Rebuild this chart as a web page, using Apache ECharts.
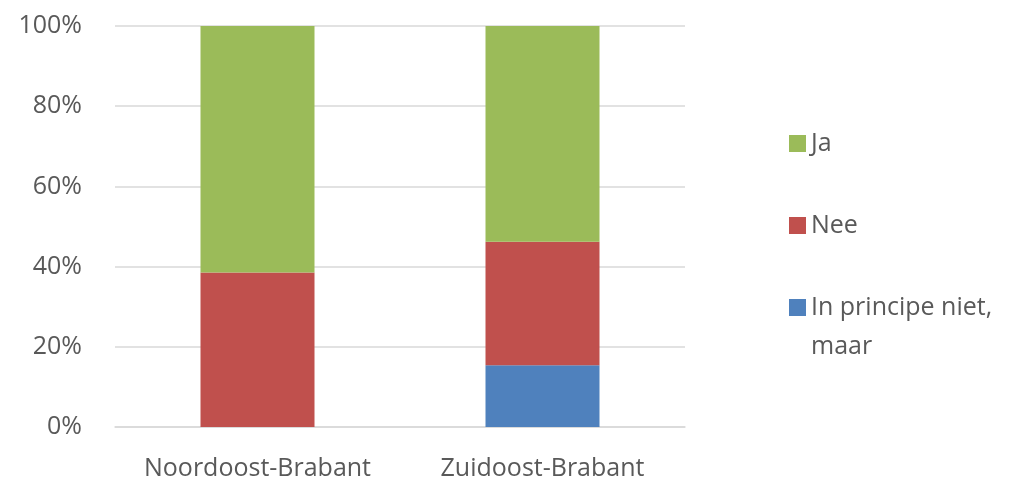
<!DOCTYPE html>
<html>
<head>
<meta charset="utf-8">
<script src="https://cdn.jsdelivr.net/npm/echarts@6/dist/echarts.min.js"></script>
<style>
  html, body { margin: 0; padding: 0; background: #fff; }
  #chart { width: 1021px; height: 479px; }
</style>
</head>
<body>
<div id="chart"></div>
<script>
// Regions on the category axis
const regions = ['Noordoost-Brabant', 'Zuidoost-Brabant'];

// Share of answers per region (percent), stacked bottom to top
const principeNiet = [0, 15.4];
const nee = [38.5, 30.8];
const ja = [61.5, 53.8];

// Value axis ticks
const yTicks = [0, 20, 40, 60, 80, 100];

const FONT = '"Open Sans", Carlito, sans-serif';
const TEXT = '#595959';
const GRID = '#D9D9D9';
const FS = 25;

const chart = echarts.init(document.getElementById('chart'));

const legendBase = {
  orient: 'vertical',
  left: 789,
  padding: 0,
  itemWidth: 17,
  itemHeight: 17,
  itemGap: 10,
  icon: 'rect',
  selectedMode: false,
  textStyle: { fontFamily: FONT, fontSize: FS, color: TEXT, lineHeight: 39 }
};

chart.setOption({
  animation: false,
  grid: { left: 115, right: 336, top: 26, bottom: 52, outerBoundsMode: 'none', containLabel: false },
  legend: [
    Object.assign({}, legendBase, { top: 124, data: ['Ja'] }),
    Object.assign({}, legendBase, { top: 206, data: ['Nee'] }),
    Object.assign({}, legendBase, {
      top: 249,
      data: ['In principe niet, maar'],
      // leading blank line keeps the marker level with the first line of text
      formatter: () => '\nIn principe niet,\nmaar'
    })
  ],
  xAxis: {
    type: 'category',
    data: regions,
    axisLine: { lineStyle: { color: GRID, width: 1.5 } },
    axisTick: { show: false },
    axisLabel: { interval: 0, fontFamily: FONT, fontSize: FS, color: TEXT, margin: 29 }
  },
  yAxis: {
    type: 'value',
    min: yTicks[0],
    max: yTicks[yTicks.length - 1],
    interval: yTicks[1] - yTicks[0],
    axisLine: { show: false },
    axisTick: { show: false },
    splitLine: { lineStyle: { color: GRID, width: 1.5 } },
    axisLabel: { fontFamily: FONT, fontSize: FS, color: TEXT, margin: 33, formatter: v => v + '%' }
  },
  series: [
    { name: 'In principe niet, maar', type: 'bar', stack: 'total', barWidth: '40%', data: principeNiet, itemStyle: { color: '#4F81BD' } },
    { name: 'Nee', type: 'bar', stack: 'total', barWidth: '40%', data: nee, itemStyle: { color: '#C0504D' } },
    { name: 'Ja', type: 'bar', stack: 'total', barWidth: '40%', data: ja, itemStyle: { color: '#9BBB59' } }
  ]
});
</script>
</body>
</html>
